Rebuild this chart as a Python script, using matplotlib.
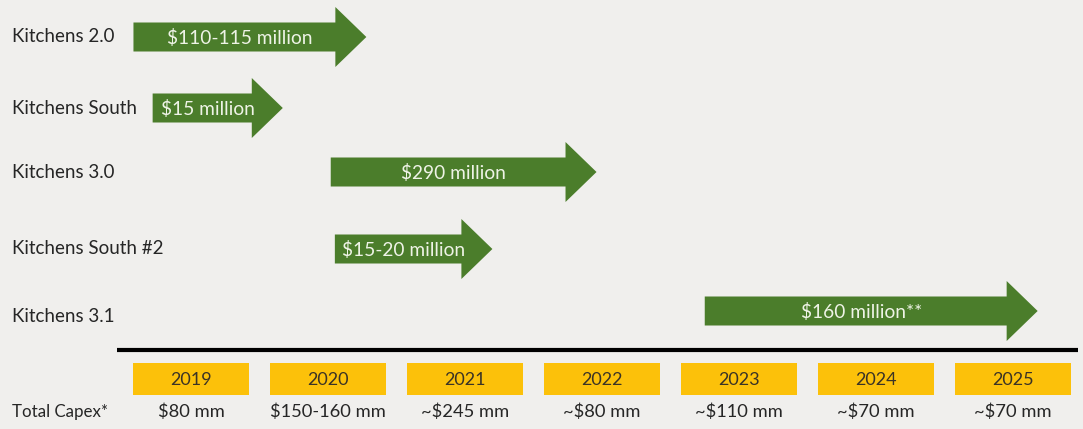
import numpy as np
import matplotlib.pyplot as plt
from matplotlib.patches import FancyArrow, Rectangle

plt.rcParams['font.family'] = ['Lato', 'DejaVu Sans']

# --- projects: start / end in fractional years ---
projects = ["Kitchens 2.0", "Kitchens South", "Kitchens 3.0",
            "Kitchens South #2", "Kitchens 3.1"]
proj_start = [2018.58, 2018.72, 2020.02, 2020.05, 2022.75]
proj_end = [2020.28, 2019.67, 2021.96, 2021.20, 2025.18]
proj_cost = ["$110-115 million", "$15 million", "$290 million",
             "$15-20 million", "$160 million**"]

years = [2019, 2020, 2021, 2022, 2023, 2024, 2025]
capex = ["$80 mm", "$150-160 mm", "~$245 mm", "~$80 mm",
         "~$110 mm", "~$70 mm", "~$70 mm"]

# vertical layout (pixel rows, top = 0)
row_y = [37, 108, 172, 249, 311]
label_y = [37, 108, 172, 249, 316]

BG = "#f0efed"
GREEN = "#4b7d2b"
GOLD = "#fcc10a"
INK = "#262626"

fig = plt.figure(figsize=(10.83, 4.29), dpi=100, facecolor=BG)
ax = fig.add_axes([0, 0, 1, 1])
ax.set_facecolor(BG)
px_per_year = 137.0
x0 = 2019 - 191 / px_per_year
ax.set_xlim(x0, x0 + 1083 / px_per_year)
ax.set_ylim(429, 0)
ax.axis("off")

head_len = 31 / px_per_year
for name, s, e, cost, y, ly in zip(projects, proj_start, proj_end,
                                   proj_cost, row_y, label_y):
    ax.add_patch(FancyArrow(s, y, e - s, 0, width=29, head_width=60,
                            head_length=head_len, length_includes_head=True,
                            color=GREEN, lw=0))
    body_mid = (s + e - head_len) / 2
    ax.text(body_mid + 0.04, y + 1, cost, ha="center", va="center",
            color="#eef3e6", fontsize=13.8)
    ax.text(x0 + 12 / px_per_year, ly, name, ha="left", va="center",
            color=INK, fontsize=13.5)

# timeline rule
ax.plot([x0 + 117 / px_per_year, x0 + 1078 / px_per_year], [350, 350],
        color="black", lw=3, solid_capstyle="butt")

box_w = 117 / px_per_year
for yr, cx in zip(years, capex):
    ax.add_patch(Rectangle((yr - box_w / 2, 363), box_w, 32,
                           facecolor=GOLD, edgecolor="none"))
    ax.text(yr, 380, str(yr), ha="center", va="center",
            color="#3a3326", fontsize=13)
    ax.text(yr, 412, cx, ha="center", va="center",
            color=INK, fontsize=13.2)

ax.text(x0 + 12 / px_per_year, 412, "Total Capex*", ha="left", va="center",
        color=INK, fontsize=12.2)

fig.savefig("out.png", dpi=100, facecolor=BG)
